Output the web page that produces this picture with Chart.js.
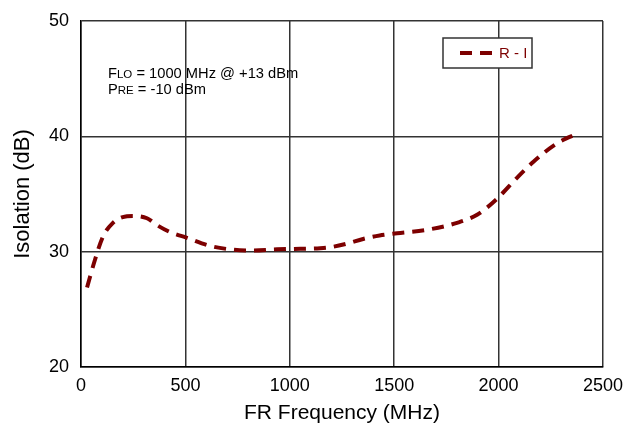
<!DOCTYPE html>
<html>
<head>
<meta charset="utf-8">
<title>Isolation vs FR Frequency</title>
<script src="https://cdn.jsdelivr.net/npm/chart.js@4.4.1/dist/chart.umd.min.js"></script>
<style>
    html, body { margin: 0; padding: 0; background: #fff; }
    #wrap { width: 624px; height: 429px; }
</style>
</head>
<body>
<div id="wrap"><canvas id="isoChart" width="624" height="429"></canvas></div>
<script>
// Frequency points (MHz) and R-I isolation (dB)
const freqMHz = [29, 67, 105, 153, 200, 249, 316, 364, 426, 507, 618, 714, 824, 939, 1050, 1145, 1200, 1274, 1351, 1430, 1514, 1657, 1801, 1897, 1993, 2088, 2167, 2280, 2385];
const isolationRI = [26.9, 29.3, 31.3, 32.5, 33.0, 33.1, 32.9, 32.3, 31.7, 31.2, 30.5, 30.2, 30.1, 30.2, 30.25, 30.3, 30.4, 30.7, 31.1, 31.4, 31.6, 31.9, 32.5, 33.2, 34.6, 36.4, 37.8, 39.4, 40.3];

const xTicks = [0, 500, 1000, 1500, 2000, 2500];
const yTicks = [20, 30, 40, 50];

const seriesLabel = 'R - I';
const lineColor = '#7d0000';
const fontFamily = '"Liberation Sans", Arial, sans-serif';

// Plot box in the reference
const plotLeft = 81, plotRight = 603, plotTop = 21, plotBottom = 367;

const annotationPlugin = {
    id: 'notes',
    afterDraw(chart) {
        const ctx = chart.ctx;
        ctx.save();
        ctx.fillStyle = '#000';
        ctx.textBaseline = 'alphabetic';
        // "F" + small caps "LO", etc.
        function line(parts, x, y) {
            parts.forEach(p => {
                ctx.font = p[1] + 'px ' + fontFamily;
                ctx.fillText(p[0], x, y);
                x += ctx.measureText(p[0]).width;
            });
        }
        line([['F', 14.7], ['LO', 11.5], [' = 1000 MHz @ +13 dBm', 14.7]], 108, 78);
        line([['P', 14.7], ['RE', 11.5], [' = -10 dBm', 14.7]], 108, 94);

        // legend box
        const bx = 443, by = 38, bw = 89, bh = 30;
        ctx.fillStyle = '#fff';
        ctx.fillRect(bx, by, bw, bh);
        ctx.strokeStyle = '#333';
        ctx.lineWidth = 1.5;
        ctx.strokeRect(bx, by, bw, bh);
        ctx.strokeStyle = lineColor;
        ctx.lineWidth = 4;
        ctx.setLineDash([12, 8]);
        ctx.beginPath();
        ctx.moveTo(460, 53);
        ctx.lineTo(493, 53);
        ctx.stroke();
        ctx.setLineDash([]);
        ctx.fillStyle = lineColor;
        ctx.font = '15px ' + fontFamily;
        ctx.textBaseline = 'middle';
        ctx.fillText(seriesLabel, 499, 54);
        ctx.restore();
    }
};

const ctx = document.getElementById('isoChart').getContext('2d');
new Chart(ctx, {
    type: 'line',
    data: {
        datasets: [{
            label: seriesLabel,
            data: freqMHz.map((f, i) => ({ x: f, y: isolationRI[i] })),
            borderColor: lineColor,
            borderWidth: 4,
            borderDash: [12, 8],
            pointRadius: 0,
            fill: false,
            cubicInterpolationMode: 'monotone'
        }]
    },
    options: {
        responsive: false,
        animation: false,
        layout: {
            padding: { left: 6, right: 624 - plotRight, top: plotTop, bottom: 1 }
        },
        plugins: {
            legend: { display: false },
            tooltip: { enabled: false }
        },
        scales: {
            x: {
                type: 'linear',
                min: 0,
                max: 2500,
                afterBuildTicks: axis => { axis.ticks = xTicks.map(v => ({ value: v })); },
                afterFit: axis => {
                    axis.height = 429 - plotBottom - 1;
                    axis.paddingRight = 0;
                    axis.paddingLeft = 0;
                },
                grid: { color: '#333', lineWidth: 1.5, drawTicks: false },
                border: { color: '#000', width: 1.5 },
                ticks: {
                    padding: 8,
                    color: '#000',
                    maxRotation: 0,
                    callback: v => String(v),
                    font: { family: fontFamily, size: 18 }
                },
                title: {
                    display: true,
                    text: 'FR Frequency (MHz)',
                    color: '#000',
                    padding: { top: 2, bottom: 2 },
                    font: { family: fontFamily, size: 21 }
                }
            },
            y: {
                min: 20,
                max: 50,
                afterBuildTicks: axis => { axis.ticks = yTicks.map(v => ({ value: v })); },
                afterFit: axis => {
                    axis.width = plotLeft - 6;
                    axis.paddingTop = 0;
                    axis.paddingBottom = 0;
                },
                grid: { color: '#333', lineWidth: 1.5, drawTicks: false },
                border: { color: '#000', width: 1.5 },
                ticks: {
                    padding: 12,
                    color: '#000',
                    callback: v => String(v),
                    font: { family: fontFamily, size: 18 }
                },
                title: {
                    display: true,
                    text: 'Isolation (dB)',
                    color: '#000',
                    padding: { top: 4, bottom: 4 },
                    font: { family: fontFamily, size: 22 }
                }
            }
        }
    },
    plugins: [annotationPlugin]
});
</script>
</body>
</html>
